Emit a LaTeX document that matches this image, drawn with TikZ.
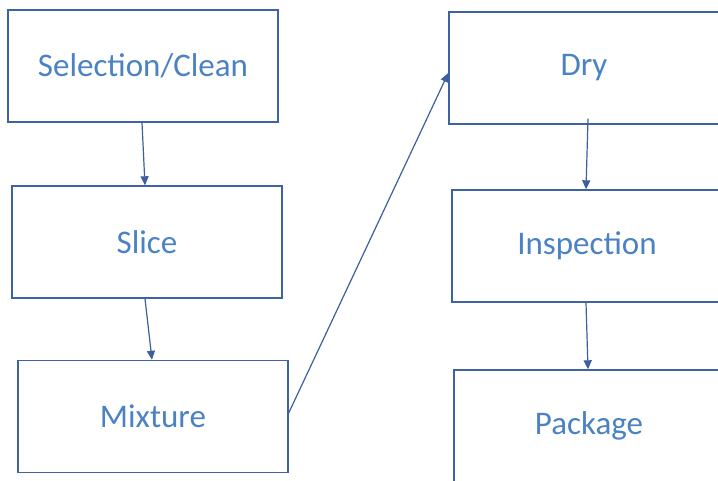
\documentclass[tikz,border=0pt]{standalone}
\usepackage{fontspec}
\setmainfont{Carlito}
\usetikzlibrary{arrows.meta}
\definecolor{boxline}{HTML}{3F62A3}
\definecolor{boxtext}{HTML}{4A82C3}
\definecolor{arrowline}{HTML}{3E5E9E}
\begin{document}
\begin{tikzpicture}[x=1pt,y=1pt,
  stepbox/.style={draw=boxline, line width=1.4pt, rectangle, minimum width=270pt, minimum height=112pt, inner sep=0pt, text=boxtext, font=\fontsize{33}{38}\selectfont},
  flow/.style={draw=arrowline, line width=1.2pt, -{Triangle[length=9pt,width=8pt]}}]
\useasboundingbox (0,0) rectangle (718,-481);
\fill[white] (0,0) rectangle (718,-481);
\node[stepbox] (s1) at (143,-66) {Selection/Clean};
\node[stepbox] (s2) at (147,-242) {Slice};
\node[stepbox] (s3) at (153,-416.5) {Mixture};
\node[stepbox] (s4) at (584,-68) {Dry};
\node[stepbox] (s5) at (587,-246) {Inspection};
\node[stepbox] (s6) at (589,-426) {Package};
\draw[flow] ([xshift=-1pt]s1.south) -- ([xshift=-2pt]s2.north);
\draw[flow] ([xshift=-2pt]s2.south) -- ([xshift=-1pt]s3.north);
\draw[flow] ([yshift=3.5pt]s3.east) -- ([yshift=-5pt]s4.west);
\draw[flow] ([xshift=4pt,yshift=6pt]s4.south) -- ([xshift=-1pt]s5.north);
\draw[flow] ([xshift=-1pt]s5.south) -- ([xshift=-1pt]s6.north);
\end{tikzpicture}
\end{document}
